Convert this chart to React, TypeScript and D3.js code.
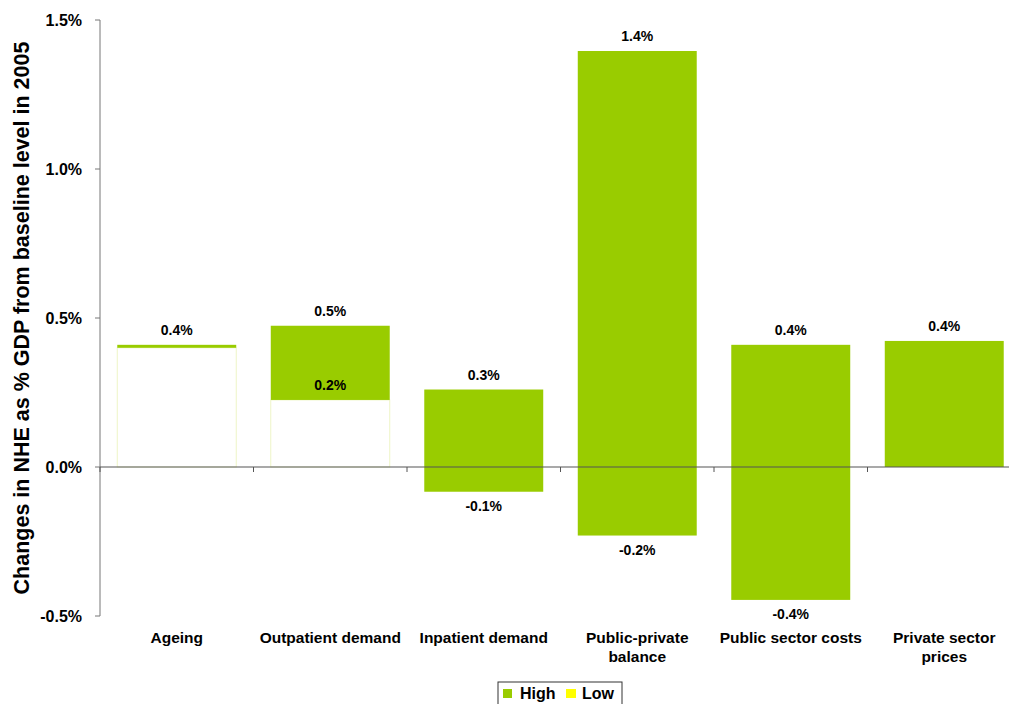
import React from "react";
import * as d3 from "d3";

const categories: string[] = [
  "Ageing",
  "Outpatient demand",
  "Inpatient demand",
  "Public-private\nbalance",
  "Public sector costs",
  "Private sector\nprices",
];
// High scenario value (top of green bar), in % of GDP
const highValues: number[] = [0.41, 0.474, 0.26, 1.396, 0.41, 0.423];
// Low scenario value (bottom of green bar), in % of GDP
const lowValues: number[] = [0.4, 0.225, -0.083, -0.23, -0.446, 0];
// whether the low value gets its own label
const showLowLabel: boolean[] = [false, true, true, true, true, false];
const yTicks: number[] = [-0.5, 0, 0.5, 1.0, 1.5];
const seriesNames: string[] = ["High", "Low"];
const yTitle = "Changes in NHE as % GDP from baseline level in 2005";

const GREEN = "#99CC00";
const YELLOW = "#FFFF00";
const FONT = "'Liberation Sans', Arial, Helvetica, sans-serif";

export default function App() {
  const W = 1009;
  const H = 704;
  const x0 = 100;
  const x1 = 1021;
  const y = d3.scaleLinear().domain([-0.5, 1.5]).range([616, 20]);
  const x = d3
    .scaleBand<string>()
    .domain(categories)
    .range([x0, x1])
    .paddingInner(0.225)
    .paddingOuter(0.1125);
  const step = x.step();
  const fmt = (v: number) => d3.format(".1f")(v).replace("\u2212", "-") + "%";
  const zeroY = y(0);

  return (
    <svg
      width={W}
      height={H}
      style={{ position: "absolute", left: 0, top: 0, background: "#fff" }}
      fontFamily={FONT}
    >
      {/* bars */}
      {categories.map((c, i) => {
        const bx = x(c)!;
        const bw = x.bandwidth();
        const hi = highValues[i];
        const lo = lowValues[i];
        const items: React.ReactNode[] = [];
        if (lo > 0) {
          items.push(
            <rect
              key="w"
              x={bx}
              y={y(lo)}
              width={bw}
              height={zeroY - y(lo)}
              fill="#ffffff"
              stroke="#eef5c6"
              strokeWidth={1}
            />
          );
        }
        items.push(
          <rect
            key="g"
            x={bx}
            y={y(hi)}
            width={bw}
            height={y(lo) - y(hi)}
            fill={GREEN}
          />
        );
        return <g key={c}>{items}</g>;
      })}

      {/* y axis */}
      <line x1={x0} x2={x0} y1={y(1.5)} y2={y(-0.5)} stroke="#777" strokeWidth={1} />
      {yTicks.map((t) => (
        <g key={t}>
          <line x1={x0 - 5} x2={x0} y1={y(t)} y2={y(t)} stroke="#777" strokeWidth={1} />
          <text
            x={82}
            y={y(t)}
            dy="0.35em"
            textAnchor="end"
            fontSize={16}
            fontWeight="bold"
            fill="#000"
          >
            {fmt(t)}
          </text>
        </g>
      ))}

      {/* zero line */}
      <line x1={x0} x2={x1} y1={zeroY} y2={zeroY} stroke="#555" strokeWidth={1.2} />
      {d3.range(categories.length + 1).map((k) => (
        <line
          key={k}
          x1={x0 + k * step}
          x2={x0 + k * step}
          y1={zeroY}
          y2={zeroY + 5}
          stroke="#555"
          strokeWidth={1}
        />
      ))}

      {/* value labels */}
      {categories.map((c, i) => {
        const cx = x(c)! + x.bandwidth() / 2;
        const hi = highValues[i];
        const lo = lowValues[i];
        return (
          <g key={"l" + c} fontSize={14} fontWeight="bold" textAnchor="middle" fill="#000">
            <text x={cx} y={y(hi) - 10}>
              {fmt(hi)}
            </text>
            {showLowLabel[i] && (
              <text x={cx} y={lo < 0 ? y(lo) + 19 : y(lo) - 10}>
                {fmt(lo)}
              </text>
            )}
          </g>
        );
      })}

      {/* category labels */}
      {categories.map((c) => {
        const cx = x(c)! + x.bandwidth() / 2;
        return (
          <text
            key={"c" + c}
            x={cx}
            y={643}
            textAnchor="middle"
            fontSize={15.5}
            fontWeight="bold"
            fill="#000"
          >
            {c.split("\n").map((line, j) => (
              <tspan key={j} x={cx} dy={j === 0 ? 0 : 19}>
                {line}
              </tspan>
            ))}
          </text>
        );
      })}

      {/* y title */}
      <text
        transform={`translate(29, 318) rotate(-90)`}
        textAnchor="middle"
        fontSize={21.5}
        fontWeight="bold"
        fill="#000"
      >
        {yTitle}
      </text>

      {/* legend */}
      <g>
        <rect x={498} y={682} width={124} height={30} fill="#fff" stroke="#333" strokeWidth={1} />
        <rect x={503} y={689} width={9} height={9} fill={GREEN} />
        <text x={520} y={699} fontSize={16} fontWeight="bold" fill="#000">
          {seriesNames[0]}
        </text>
        <rect x={566} y={689} width={10} height={9} fill={YELLOW} />
        <text x={582} y={699} fontSize={16} fontWeight="bold" fill="#000">
          {seriesNames[1]}
        </text>
      </g>
    </svg>
  );
}
